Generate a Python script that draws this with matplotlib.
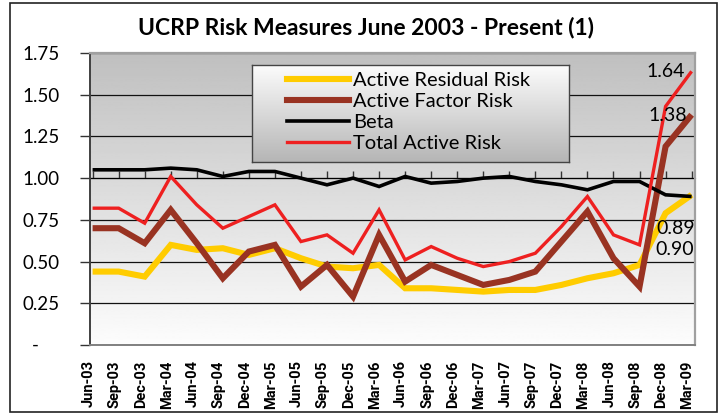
import numpy as np
import matplotlib
matplotlib.use("Agg")
import matplotlib.pyplot as plt
from matplotlib.patches import Rectangle
from matplotlib.transforms import ScaledTranslation, blended_transform_factory
from matplotlib.lines import Line2D

quarters = ["Jun-03", "Sep-03", "Dec-03", "Mar-04", "Jun-04", "Sep-04", "Dec-04", "Mar-05",
            "Jun-05", "Sep-05", "Dec-05", "Mar-06", "Jun-06", "Sep-06", "Dec-06", "Mar-07",
            "Jun-07", "Sep-07", "Dec-07", "Mar-08", "Jun-08", "Sep-08", "Dec-08", "Mar-09"]
residual = [0.44, 0.44, 0.41, 0.60, 0.57, 0.58, 0.54, 0.58, 0.52, 0.47, 0.46, 0.48,
            0.34, 0.34, 0.33, 0.32, 0.33, 0.33, 0.36, 0.40, 0.43, 0.48, 0.79, 0.90]
factor = [0.70, 0.70, 0.61, 0.81, 0.61, 0.40, 0.56, 0.60, 0.35, 0.48, 0.29, 0.66,
          0.38, 0.48, 0.42, 0.36, 0.39, 0.44, 0.62, 0.80, 0.52, 0.35, 1.19, 1.38]
beta = [1.05, 1.05, 1.05, 1.06, 1.05, 1.01, 1.04, 1.04, 1.00, 0.96, 1.00, 0.95,
        1.01, 0.97, 0.98, 1.00, 1.01, 0.98, 0.96, 0.93, 0.98, 0.98, 0.90, 0.89]
total = [0.82, 0.82, 0.73, 1.01, 0.84, 0.70, 0.77, 0.84, 0.62, 0.66, 0.55, 0.81,
         0.51, 0.59, 0.52, 0.47, 0.50, 0.55, 0.71, 0.89, 0.66, 0.60, 1.43, 1.64]
series_names = ["Active Residual Risk", "Active Factor Risk", "Beta", "Total Active Risk"]
y_ticks = [0, 0.25, 0.5, 0.75, 1.0, 1.25, 1.5, 1.75]
y_ticklabels = ["", "0.25", "0.50", "0.75", "1.00", "1.25", "1.50", "1.75"]

FONT = ["Lato", "DejaVu Sans"]
NARROW = ["Roboto", "DejaVu Sans"]

W, H = 718, 416
fig = plt.figure(figsize=(W / 100, H / 100), dpi=100)
fig.patch.set_facecolor("white")

ax = fig.add_axes([90 / W, 1 - 345 / H, 605 / W, 292 / H])
x = np.arange(len(quarters))

# gradient background
grad = np.linspace(0.99, 0.75, 256).reshape(-1, 1)
ax.imshow(grad, extent=[0, 1, 0, 1], transform=ax.transAxes, aspect="auto",
          cmap="gray", vmin=0, vmax=1, origin="lower", zorder=-10)

colors = ["#FFCC00", "#993322", "#000000", "#EE2020"]
widths = [4.4, 4.4, 2.6, 2.4]
data = [residual, factor, beta, total]
for vals, c, lw, name in zip(data, colors, widths, series_names):
    ax.plot(x, vals, color=c, lw=lw, label=name, solid_joinstyle="miter",
            solid_capstyle="butt", zorder=3)

ax.set_xlim(-0.1, len(quarters) - 1 + 0.13)
ax.set_ylim(0, 1.75)
ax.set_axisbelow(True)
ax.yaxis.grid(True, color="#111111", lw=0.9)

ax.set_yticks(y_ticks)
ax.set_yticklabels(y_ticklabels, fontsize=13.5, family=FONT)
ax.tick_params(axis="y", length=7, width=1, color="#333333", pad=15)
# zero label shown as a dash
tr = blended_transform_factory(fig.transFigure, ax.transData)
fig.text(35 / W, 0, "-", transform=tr, ha="center", va="center", fontsize=13.5, family=FONT)

ax.set_xticks(x)
ax.set_xticklabels(quarters, rotation=90, fontsize=10.5, fontweight="bold", family=NARROW,
                   va="top", ha="center")
ax.tick_params(axis="x", length=0, pad=11)
off = ScaledTranslation(-4 / 100, 0, fig.dpi_scale_trans)
for lab in ax.get_xticklabels():
    lab.set_transform(lab.get_transform() + off)

# category axis crossing at 1.0
sec = ax.secondary_xaxis(1.0 / 1.75)
sec.set_xticks(x)
sec.tick_params(axis="x", direction="out", length=5, width=1, color="#333333",
                labelbottom=False, labeltop=False)
sec.spines["bottom"].set_color("black")
sec.spines["bottom"].set_linewidth(1.3)
sec.set_zorder(1)

for s in ["top", "right"]:
    ax.spines[s].set_color("#a0a0a0")
    ax.spines[s].set_linewidth(1.6)
ax.spines["bottom"].set_color("#808080")
ax.spines["bottom"].set_linewidth(1.4)
ax.spines["left"].set_color("#404040")
ax.spines["left"].set_linewidth(1.4)

# data labels on the last point
n = len(quarters) - 1
ax.annotate(f"{total[-1]:.2f}", (n, total[-1]), xytext=(-7, 0), textcoords="offset pixels",
            ha="right", va="center", fontsize=14, family=FONT, zorder=6)
ax.annotate(f"{factor[-1]:.2f}", (n, factor[-1]), xytext=(-5, -1), textcoords="offset pixels",
            ha="right", va="center", fontsize=14, family=FONT, zorder=6)
ax.annotate(f"{beta[-1]:.2f}", (n, beta[-1]), xytext=(3, -32), textcoords="offset pixels",
            ha="right", va="center", fontsize=14, family=FONT, zorder=6)
ax.annotate(f"{residual[-1]:.2f}", (n, residual[-1]), xytext=(2, -55), textcoords="offset pixels",
            ha="right", va="center", fontsize=14, family=FONT, zorder=6)

# legend box with gradient
lax = ax.inset_axes([(251.7 - 90) / 605, (345 - 162.3) / 292, 317.6 / 605, 97.3 / 292])
lax.set_zorder(10)
lgrad = np.linspace(0.71, 0.99, 256).reshape(-1, 1)
lax.imshow(lgrad, extent=[0, 1, 0, 1], aspect="auto", cmap="gray", vmin=0, vmax=1,
           origin="lower")
lax.set_xlim(0, 1)
lax.set_ylim(0, 1)
lax.set_xticks([])
lax.set_yticks([])
for s in lax.spines.values():
    s.set_color("#444444")
    s.set_linewidth(1.0)
handles = [Line2D([], [], color=c, lw=lw) for c, lw in zip(colors, widths)]
lax.legend(handles, series_names, loc="upper left", bbox_to_anchor=(35 / 317.6, 1 - 7 / 97.3),
           frameon=False, prop={"family": FONT, "size": 14.5}, handlelength=3.1,
           handletextpad=0.2, labelspacing=0.2, borderpad=0, borderaxespad=0)

fig.text(366 / W, 1 - 27 / H, "UCRP Risk Measures June 2003 - Present (1)",
         ha="center", va="center", fontsize=16.5, fontweight="bold", family=FONT)

fig.patches.append(Rectangle((10 / W, 4 / H), 707 / W, 409 / H, transform=fig.transFigure,
                             fill=False, edgecolor="#222222", lw=1.2))

fig.savefig("out.png", dpi=100)
